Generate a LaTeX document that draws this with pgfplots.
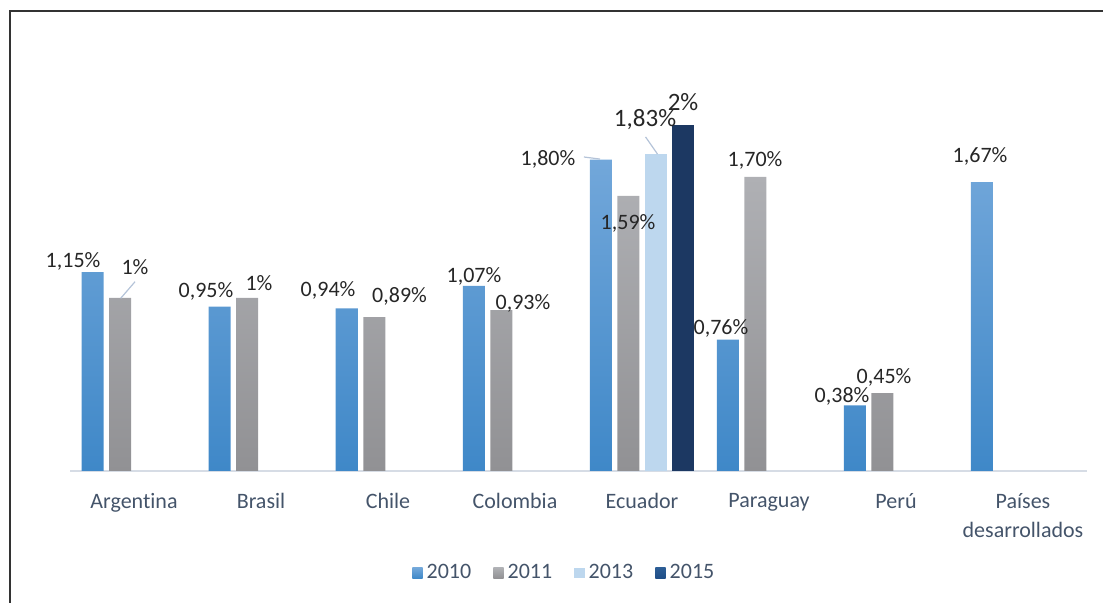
\documentclass[border=0pt]{standalone}
\usepackage{pgfplots}
\pgfplotsset{compat=1.18}
\usepackage{fontspec}
\setmainfont{Carlito}[Ligatures=NoCommon]
\definecolor{bA}{HTML}{72A7DA}
\definecolor{bB}{HTML}{3F88C8}
\definecolor{gA}{HTML}{AFB0B4}
\definecolor{gB}{HTML}{919194}
\definecolor{lb}{HTML}{BDD7EE}
\definecolor{nv}{HTML}{1C3862}
\definecolor{nvA}{HTML}{2C5D95}
\definecolor{nvB}{HTML}{1F4E87}
\definecolor{tk}{HTML}{44546A}
\definecolor{lab}{HTML}{262626}
\definecolor{ld}{HTML}{B4C3D8}
\definecolor{axl}{HTML}{D6DCE5}
\begin{document}
\begin{tikzpicture}
\useasboundingbox (0,0) rectangle (551.5pt,301.5pt);
\draw[line width=0.8pt,color=black!80] (5pt,0pt) -- (5pt,296pt) -- (551.5pt,296pt);
\begin{axis}[
  at={(35.25pt,66pt)}, anchor=south west,
  scale only axis, width=508pt, height=216.25pt,
  ybar=2.75pt, bar width=11pt,
  xmin=-0.5, xmax=7.5, ymin=0, ymax=2.5,
  axis x line*=bottom, axis y line=none,
  x axis line style={color=axl, line width=0.8pt},
  xtick={0,1,2,3,4,5,6,7},
  xticklabels={Argentina,Brasil,Chile,Colombia,Ecuador,Paraguay,Perú,{Países\\desarrollados}},
  xticklabel style={align=center, text=tk, font=\fontsize{11pt}{14.5pt}\selectfont, yshift=-7.5pt},
  major tick length=0pt,
  ytick=\empty,
  legend columns=4,
  legend style={draw=none, at={(0.487,-0.236)}, anchor=center, font=\fontsize{11pt}{13pt}\selectfont, text=tk,
    /tikz/every even column/.append style={column sep=9pt}},
  legend image code/.code={\fill[#1] (0pt,-2.6pt) rectangle (5.2pt,2.6pt);},
  clip=false,
]
\addplot[draw=none, top color=bA, bottom color=bB] coordinates {(0,1.15) (1,0.95) (2,0.94) (3,1.07) (4,1.80) (5,0.76) (6,0.38) (7,1.67)};
\addlegendentry{2010}
\addplot[draw=none, top color=gA, bottom color=gB] coordinates {(0,1.00) (1,1.00) (2,0.89) (3,0.93) (4,1.59) (5,1.70) (6,0.45)};
\addlegendentry{2011}
\addplot[draw=none, fill=lb] coordinates {(4,1.83)};
\addlegendentry{2013}
\addplot[draw=none, fill=nv, legend image code/.code={\fill[top color=nvA,bottom color=nvB] (0pt,-2.6pt) rectangle (5.2pt,2.6pt);}] coordinates {(4,2.00)};
\addlegendentry{2015}
% leader lines
\draw[ld, line width=0.6pt] (axis cs:-0.105,0.998) -- (axis cs:0.008,1.094);
\draw[ld, line width=0.6pt] (axis cs:3.543,1.815) -- (axis cs:3.669,1.803);
\draw[ld, line width=0.6pt] (axis cs:4.028,1.931) -- (axis cs:4.122,1.832);
% data labels
\begin{scope}[every node/.style={text=lab, font=\fontsize{11pt}{13pt}\selectfont, inner sep=0pt}]
\node at (axis cs:-0.480,1.214) {1,15\%};
\node at (axis cs:0.008,1.179) {1\%};
\node at (axis cs:0.567,1.036) {0,95\%};
\node at (axis cs:0.984,1.087) {1\%};
\node at (axis cs:1.528,1.046) {0,94\%};
\node at (axis cs:2.091,1.008) {0,89\%};
\node at (axis cs:2.677,1.123) {1,07\%};
\node at (axis cs:3.063,0.971) {0,93\%};
\node at (axis cs:3.260,1.803) {1,80\%};
\node at (axis cs:3.890,1.434) {1,59\%};
\node[font=\fontsize{12.5pt}{14pt}\selectfont] at (axis cs:4.024,2.029) {1,83\%};
\node[font=\fontsize{12.5pt}{14pt}\selectfont] at (axis cs:4.323,2.135) {2\%};
\node at (axis cs:4.622,0.827) {0,76\%};
\node at (axis cs:4.890,1.798) {1,70\%};
\node at (axis cs:5.575,0.429) {0,38\%};
\node at (axis cs:5.906,0.543) {0,45\%};
\node at (axis cs:6.662,1.821) {1,67\%};
\end{scope}
\end{axis}
\end{tikzpicture}
\end{document}
